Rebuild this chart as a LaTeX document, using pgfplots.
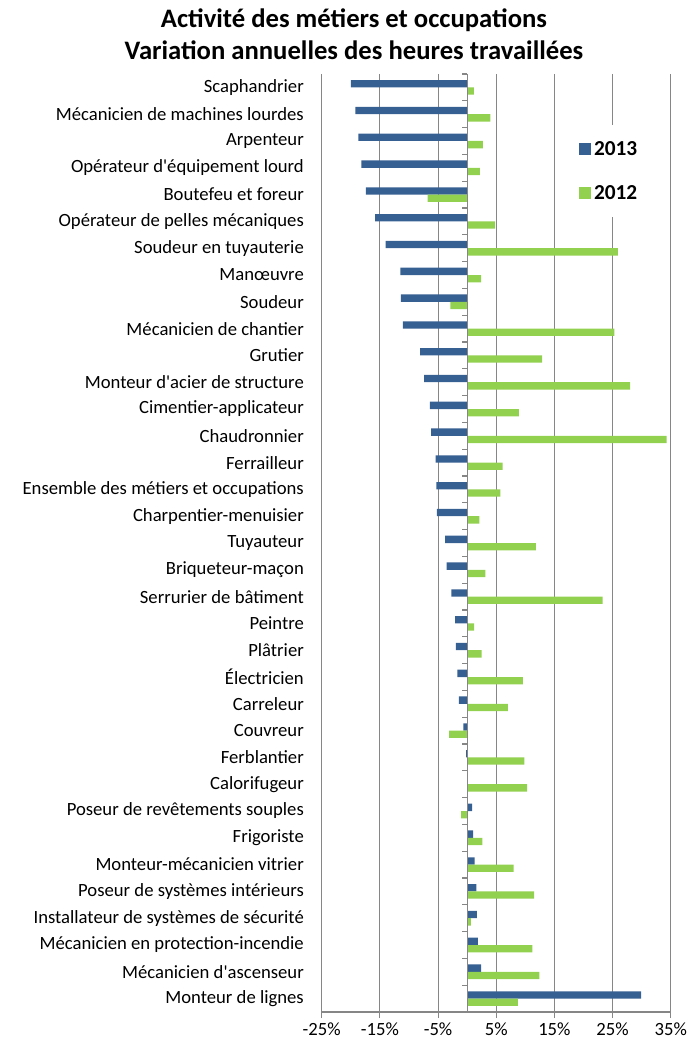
\documentclass[border=0pt]{standalone}
\usepackage{fontspec}
\setmainfont{Carlito}
\usepackage{pgfplots}
\pgfplotsset{compat=1.18}
\usepackage{pgfplotstable}
\definecolor{c2013}{RGB}{55,96,146}
\definecolor{c2012}{RGB}{146,208,80}
\definecolor{gridc}{RGB}{134,134,134}

\pgfplotstableread{
idx v2013 v2012
0 -20.0 1.15
1 -19.2 4.0
2 -18.7 2.7
3 -18.2 2.2
4 -17.4 -6.8
5 -15.8 4.8
6 -14.0 25.9
7 -11.5 2.4
8 -11.4 -2.9
9 -11.05 25.3
10 -8.1 12.9
11 -7.4 28.0
12 -6.4 8.9
13 -6.2 34.3
14 -5.4 6.1
15 -5.3 5.7
16 -5.2 2.1
17 -3.8 11.8
18 -3.55 3.15
19 -2.7 23.3
20 -2.06 1.2
21 -1.95 2.5
22 -1.66 9.6
23 -1.43 7.0
24 -0.63 -3.1
25 -0.17 9.85
26 0 10.3
27 0.86 -1.03
28 1.03 2.6
29 1.3 8.0
30 1.6 11.5
31 1.66 0.63
32 1.83 11.2
33 2.4 12.4
34 29.9 8.7
}\data

\begin{document}
\begin{tikzpicture}
\path[use as bounding box] (-241.3pt,-24pt) rectangle (283pt,759pt);
\begin{axis}[
  at={(0,0)}, anchor=south west,
  scale only axis, width=261.75pt, height=703.5pt,
  xbar=0pt, bar width=5.5pt,
  xmin=-25, xmax=35, ymin=-0.5, ymax=34.5, y dir=reverse,
  xtick={-25,-15,-5,5,15,25,35},
  xticklabels={-25\%,-15\%,-5\%,5\%,15\%,25\%,35\%},
  xmajorgrids, grid style={gridc, line width=0.8pt},
  axis x line*=bottom, axis y line*=left,
  x axis line style={-, gridc, line width=0.8pt},
  y axis line style={draw=none},
  xtick style={gridc, line width=0.8pt},
  tick align=outside, major tick length=4.5pt,
  ytick style={draw=none},
  ytick={0,...,34},
  yticklabels={Scaphandrier, Mécanicien de machines lourdes, Arpenteur, Opérateur d\textquotesingle équipement lourd, Boutefeu et foreur, Opérateur de pelles mécaniques, Soudeur en tuyauterie, Manœuvre, Soudeur, Mécanicien de chantier, Grutier, Monteur d\textquotesingle acier de structure, Cimentier-applicateur, Chaudronnier, Ferrailleur, Ensemble des métiers et occupations, Charpentier-menuisier, Tuyauteur, Briqueteur-maçon, Serrurier de bâtiment, Peintre, Plâtrier, Électricien, Carreleur, Couvreur, Ferblantier, Calorifugeur, Poseur de revêtements souples, Frigoriste, Monteur-mécanicien vitrier, Poseur de systèmes intérieurs, Installateur de systèmes de sécurité, Mécanicien en protection-incendie, Mécanicien d\textquotesingle ascenseur, Monteur de lignes},
  yticklabel style={anchor=east, inner sep=0pt, xshift=-8.75pt, font=\fontsize{14}{16}\selectfont},
  xticklabel style={font=\fontsize{14}{16}\selectfont},
  legend style={at={(0.726,0.9456)}, anchor=north west, draw=none, fill=white,
    font=\bfseries\fontsize{16}{19}\selectfont, row sep=17pt, inner xsep=3pt, inner ysep=10pt},
  legend cell align=left,
  legend image code/.code={\fill[#1] (0pt,-4.5pt) rectangle (9pt,4.5pt);},
]
\addplot[fill=c2013, draw=none, bar shift=2.75pt] table[x=v2013, y=idx]{\data};
\addplot[fill=c2012, draw=none, bar shift=-2.75pt] table[x=v2012, y=idx]{\data};
\draw[gridc, line width=0.8pt] (axis cs:0,-0.5) -- (axis cs:0,34.5);
\pgfplotsinvokeforeach{-0.5,0.5,...,34.5}{\draw[gridc, line width=0.8pt] (axis cs:0,#1) -- ++(-3.75pt,0pt);}
\legend{2013,2012}
\end{axis}
\node[font=\bfseries\fontsize{20}{24}\selectfont] at (24.2pt,744pt) {Activité des métiers et occupations};
\node[font=\bfseries\fontsize{20}{24}\selectfont] at (24.2pt,721.5pt) {Variation annuelles des heures travaillées};
\end{tikzpicture}
\end{document}
